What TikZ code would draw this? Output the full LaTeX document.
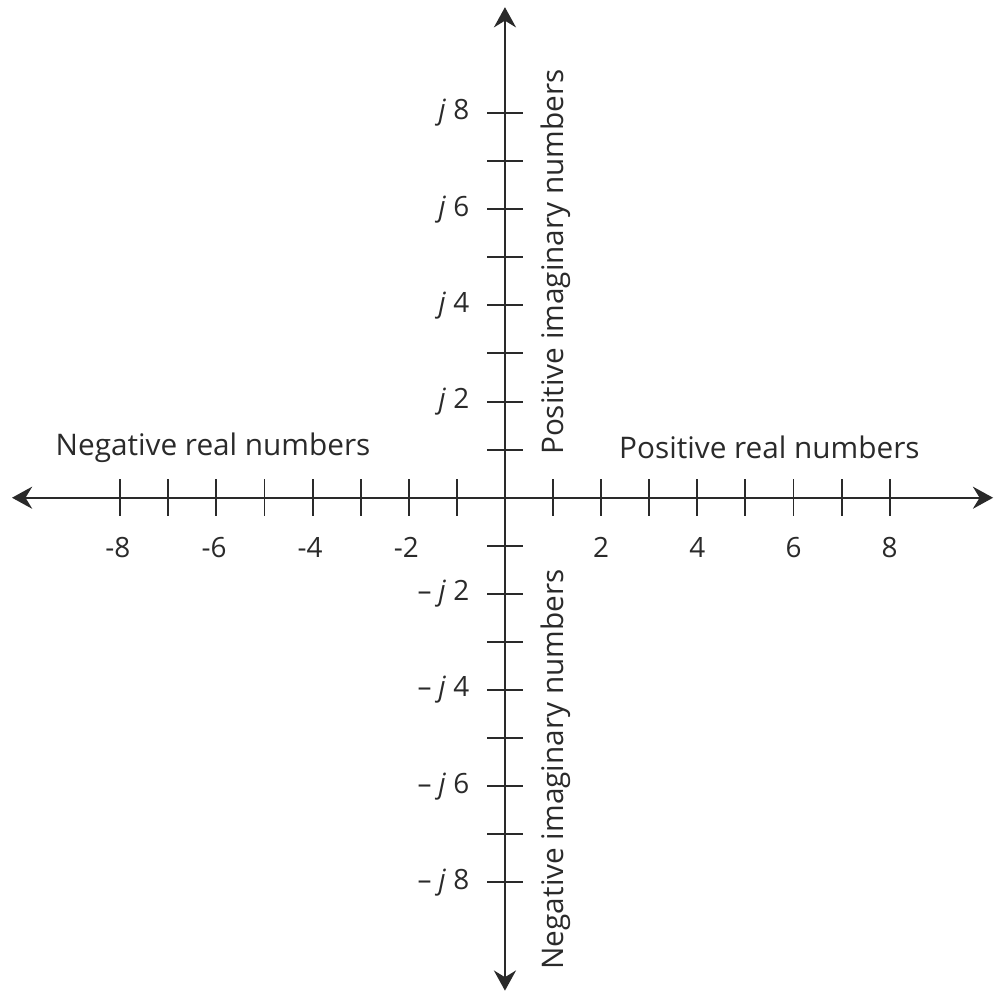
\documentclass[tikz,border=0pt]{standalone}
\usepackage{fontspec}
\setmainfont{Open Sans}
\usepackage{tikz}
\usetikzlibrary{arrows.meta}
\definecolor{axiscol}{HTML}{2A2A2A}
\tikzset{
  axis/.style={draw=axiscol,line width=1.2pt,{Stealth[length=0.42cm,width=0.46cm,inset=0.14cm]}-{Stealth[length=0.42cm,width=0.46cm,inset=0.14cm]}},
  tickmark/.style={draw=axiscol,line width=1.15pt},
  ticklabel/.style={font=\fontsize{16.5}{19}\selectfont,text=axiscol,inner sep=1pt},
  axislabel/.style={font=\fontsize{17.6}{20}\selectfont,text=axiscol,inner sep=1pt},
}

\begin{document}
\begin{tikzpicture}
  \useasboundingbox (-10.5,-10.33) rectangle (10.19,10.35);
  \coordinate (west) at (-10.25,0);
  \coordinate (east) at (10.15,0);
  \coordinate (north) at (0,10.2);
  \coordinate (south) at (0,-10.25);
  \draw[axis] (west) -- (east);
  \draw[axis] (south) -- (north);
  \foreach \t in {-8,...,-1,1,2,...,8} {
    \draw[tickmark] (\t,0.38) -- (\t,-0.38);
    \draw[tickmark] (-0.37,\t) -- (0.37,\t);
  }
  \foreach \t in {2,4,6,8} {
    \node[ticklabel] (re\t) at (\t,-1.04) {\t};
    \node[ticklabel] (rm\t) at (-\t-0.05,-1.04) {-\t};
    \node[ticklabel,anchor=east] (im\t) at (-0.7,\t) {\textit{j}\ \t};
    \node[ticklabel,anchor=east] (in\t) at (-0.7,-\t) {–\ \textit{j}\ \t};
  }
  \node[axislabel] (negre) at (-6.07,1.04) {Negative real numbers};
  \node[axislabel] (posre) at (5.5,1.04) {Positive real numbers};
  \node[axislabel,rotate=90] (posim) at (1.06,4.9) {Positive imaginary numbers};
  \node[axislabel,rotate=90] (negim) at (1.06,-5.65) {Negative imaginary numbers};
\end{tikzpicture}
\end{document}
